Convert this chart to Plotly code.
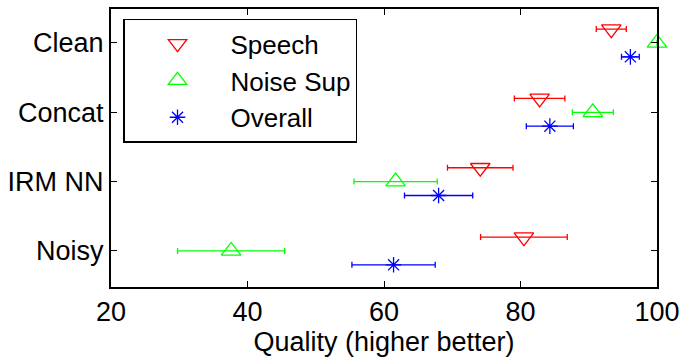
import plotly.graph_objects as go

# Systems, listed bottom to top on the y axis
systems = ["Noisy", "IRM NN", "Concat", "Clean"]
system_pos = [1, 2, 3, 4]

# Mean quality scores and half-width of the error bars per system
speech_mean = [80.5, 74.1, 82.8, 93.3]
speech_err = [6.35, 4.8, 3.7, 2.2]
noise_mean = [37.6, 61.7, 90.6, 100.0]
noise_err = [7.85, 6.1, 3.0, 0.0]
overall_mean = [61.4, 68.0, 84.3, 96.1]
overall_err = [6.1, 5.0, 3.45, 1.3]

x_ticks = [20, 40, 60, 80, 100]

font_family = "Liberation Sans, Arial, sans-serif"

series = [
    ("Speech", speech_mean, speech_err, 0.2, "#ff0000", "triangle-down-open", 17),
    ("Noise Sup", noise_mean, noise_err, 0.0, "#00ff00", "triangle-up-open", 17),
    ("Overall", overall_mean, overall_err, -0.2, "#0000ff", "asterisk-open", 13),
]

fig = go.Figure()
for name, means, errs, offset, color, symbol, size in series:
    fig.add_trace(go.Scatter(
        x=means,
        y=[p + offset for p in system_pos],
        mode="markers",
        name=name,
        marker=dict(symbol=symbol, size=size, color=color,
                    line=dict(color=color, width=1.3)),
        error_x=dict(type="data", array=errs, visible=True,
                     color=color, thickness=1.3, width=3),
        cliponaxis=False,
    ))

fig.update_layout(
    width=681, height=358,
    margin=dict(l=111, r=24, t=9, b=71, autoexpand=False),
    paper_bgcolor="white", plot_bgcolor="white",
    font=dict(family=font_family, size=25, color="black"),
    showlegend=True,
    legend=dict(
        x=0.022, y=0.965, xanchor="left", yanchor="top",
        bordercolor="black", borderwidth=1.5, bgcolor="white",
        font=dict(size=26), itemwidth=96, tracegroupgap=0,
    ),
)
fig.update_xaxes(
    range=[20, 100], tickvals=x_ticks, ticks="inside", ticklen=6,
    tickcolor="black", showgrid=False, zeroline=False, automargin=False,
    showline=True, linecolor="black", linewidth=2, mirror="allticks",
    title=dict(text="Quality (higher better)", standoff=4, font=dict(size=27)),
    tickfont=dict(size=27),
)
fig.update_yaxes(
    range=[0.48, 4.49], tickvals=system_pos, ticktext=systems,
    ticks="inside", ticklen=6, tickcolor="black", showgrid=False,
    zeroline=False, showline=True, linecolor="black", linewidth=2,
    mirror="allticks", tickfont=dict(size=27), automargin=False,
)

fig.write_html("out.html")
